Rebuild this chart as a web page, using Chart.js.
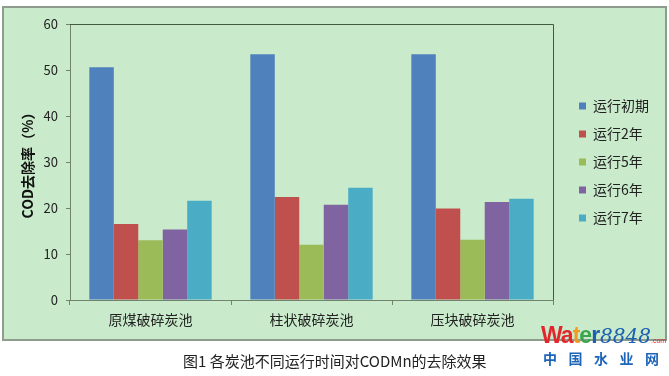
<!DOCTYPE html>
<html>
<head>
<meta charset="utf-8">
<script src="https://cdn.jsdelivr.net/npm/chart.js@4.4.0/dist/chart.umd.min.js"></script>
<style>
  body { margin: 0; background: #fff; }
  #wrap { position: relative; width: 669px; height: 376px; overflow: hidden; }
  #chart { position: absolute; left: 0; top: 0; }
  .caption {
    position: absolute; left: 183px; top: 350px;
    font: 15px "Noto Sans CJK SC", sans-serif; color: #222; white-space: nowrap;
  }
  .logo { position: absolute; left: 541px; top: 322px; white-space: nowrap; }
  .logo .w { font: bold 23px "Liberation Sans", sans-serif; letter-spacing: -1px; }
  .logo .n { font: italic 20px "DejaVu Serif", serif; color: #1d5fb0; margin-left: 1px; }
  .logo .c { font: 7px "Liberation Sans", sans-serif; color: #e0262c; }
  .logo .cn {
    position: absolute; left: 2px; top: 26px;
    font: bold 14px "Noto Sans CJK SC", sans-serif; color: #1d64b8; letter-spacing: 11.5px;
  }
</style>
</head>
<body>
<div id="wrap">
  <canvas id="chart" width="669" height="376"></canvas>
  <div class="caption">图1 各炭池不同运行时间对CODMn的去除效果</div>
  <div class="logo">
    <span class="w"><span style="color:#e3262b">Wa</span><span style="color:#f39a1e">t</span><span style="color:#3aa54a">e</span><span style="color:#1d5fb0">r</span></span><span class="n">8848</span><span class="c">.com</span>
    <div class="cn">中国水业网</div>
  </div>
</div>
<script>
const categories = ['原煤破碎炭池', '柱状破碎炭池', '压块破碎炭池'];
const seriesNames = ['运行初期', '运行2年', '运行5年', '运行6年', '运行7年'];
const initialYear = [50.6, 53.4, 53.4];
const year2 = [16.5, 22.4, 19.9];
const year5 = [13.0, 12.0, 13.1];
const year6 = [15.3, 20.7, 21.3];
const year7 = [21.6, 24.4, 22.0];
const yMin = 0;
const yMax = 60;
const yStep = 10;

const barColors = ['#4f81bd', '#c0504d', '#9bbb59', '#8064a2', '#4bacc6'];
const bgGreen = '#c9ebcb';
const axisColor = '#6f836f';

Chart.defaults.font.family = '"Noto Sans CJK SC", "Noto Sans", sans-serif';

// green panel behind everything + dark frame on top/right of the plot
const framePlugin = {
  id: 'frame',
  beforeDraw(chart) {
    const ctx = chart.ctx;
    ctx.save();
    ctx.fillStyle = bgGreen;
    ctx.fillRect(3, 7, 663, 333);
    ctx.strokeStyle = '#8d9c8d';
    ctx.lineWidth = 2;
    ctx.strokeRect(3, 7, 663, 333);
    ctx.restore();
  },
  afterDraw(chart) {
    const {ctx, chartArea} = chart;
    ctx.save();
    ctx.strokeStyle = '#3f5a3f';
    ctx.lineWidth = 1;
    ctx.beginPath();
    ctx.moveTo(chartArea.left, chartArea.top + 0.5);
    ctx.lineTo(chartArea.right + 0.5, chartArea.top + 0.5);
    ctx.lineTo(chartArea.right + 0.5, chartArea.bottom);
    ctx.stroke();
    ctx.restore();
  }
};

const allSeries = [initialYear, year2, year5, year6, year7];

new Chart(document.getElementById('chart'), {
  type: 'bar',
  data: {
    labels: categories,
    datasets: allSeries.map((vals, i) => ({
      label: seriesNames[i],
      data: vals,
      backgroundColor: barColors[i],
      borderWidth: 0,
      barPercentage: 1,
      categoryPercentage: 0.76,
    })),
  },
  options: {
    responsive: false,
    animation: false,
    layout: {
      padding: { left: 4, top: 24, right: 10, bottom: 46 },
    },
    plugins: {
      tooltip: { enabled: false },
      legend: {
        position: 'right',
        fullSize: false,
        labels: {
          boxWidth: 7,
          boxHeight: 7,
          padding: 14,
          color: '#222',
          font: { size: 14 },
        },
      },
    },
    scales: {
      x: {
        grid: { drawOnChartArea: false, tickLength: 5, color: axisColor },
        border: { color: axisColor },
        ticks: { color: '#222', font: { size: 14 }, padding: 6 },
        afterFit(scale) { scale.height = 30; },
      },
      y: {
        min: yMin,
        max: yMax,
        grid: { drawOnChartArea: false, tickLength: 4, color: axisColor },
        border: { color: axisColor },
        ticks: { stepSize: yStep, color: '#222', font: { size: 13 }, padding: 8 },
        title: {
          display: true,
          text: 'COD去除率（%）',
          color: '#111',
          font: { size: 14, weight: 'bold' },
          padding: { top: 15, bottom: 0 },
        },
        afterFit(scale) { scale.width = 66; },
      },
      yGap: {
        position: 'right',
        display: true,
        ticks: { display: false },
        grid: { display: false },
        border: { display: false },
        afterFit(scale) { scale.width = 12; },
      },
    },
  },
  plugins: [framePlugin],
});
</script>
</body>
</html>
